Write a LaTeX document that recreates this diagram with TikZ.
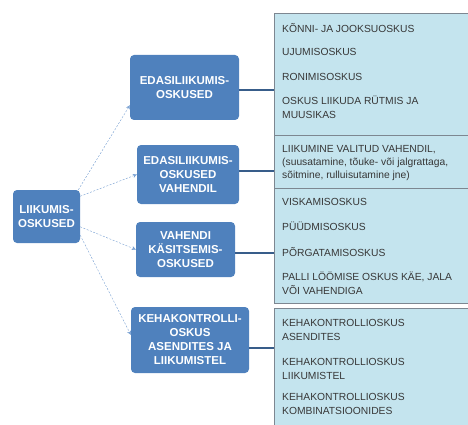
\documentclass[tikz,border=0pt]{standalone}
\usepackage{fontspec}
\setmainfont{Liberation Sans}
\usepackage{xcolor}
\usepackage{tikz}
\usetikzlibrary{arrows, arrows.meta}
\definecolor{boxblue}{RGB}{79,129,189}
\definecolor{panelblue}{RGB}{196,228,238}
\definecolor{panelline}{RGB}{125,135,145}
\definecolor{linkblue}{RGB}{56,93,138}
\definecolor{arrowblue}{RGB}{120,160,210}
\definecolor{itemgray}{RGB}{55,55,55}

\begin{document}
\begin{tikzpicture}[x=1pt, y=-1pt,
		skill/.style={rectangle, rounded corners=4pt, fill=boxblue, text=white, align=center, inner sep=0pt, font=\bfseries\fontsize{11.5}{14}\selectfont},
		panel/.style={rectangle, draw=panelline, fill=panelblue, minimum width=196, inner sep=0pt},
		item/.style={anchor=west, align=left, inner sep=0pt, text=itemgray, font=\fontsize{10.3}{14}\selectfont},
		link/.style={draw=linkblue, line width=2pt},
		branch/.style={draw=arrowblue, dash pattern=on 2pt off 1.5pt, -{Stealth[length=4pt, width=4pt]}}]
			\useasboundingbox (0,0) rectangle (468,425);
			\foreach \y/\h [count=\c] in {74/122, 161.5/53, 245.5/115, 370/124}
			{
				\node[panel, minimum height=\h](p\c) at (372,\y){};
			}
			\foreach \lab/\y [count=\c] in {{KÕNNI- JA JOOKSUOSKUS}/28, UJUMISOSKUS/52, RONIMISOSKUS/77, {OSKUS LIIKUDA RÜTMIS JA\\MUUSIKAS}/107.5,
				{LIIKUMINE VALITUD VAHENDIL,\\[-1pt](suusatamine, tõuke- või jalgrattaga,\\[-1pt]sõitmine, rulluisutamine jne)}/163,
				VISKAMISOSKUS/202, PÜÜDMISOSKUS/226, PÕRGATAMISOSKUS/252, {PALLI LÖÖMISE OSKUS KÄE, JALA\\VÕI VAHENDIGA}/283.5,
				{KEHAKONTROLLIOSKUS\\ASENDITES}/329.5, {KEHAKONTROLLIOSKUS\\LIIKUMISTEL}/368.5, {KEHAKONTROLLIOSKUS\\KOMBINATSIOONIDES}/404}
			{
				\node[item](i\c) at (282,\y){\lab};
			}
			\node[skill, minimum width=67, minimum height=53](root) at (46.5,216.5){LIIKUMIS-\\OSKUSED};
			\foreach \lab/\pos/\w/\h [count=\c] in {{EDASILIIKUMIS-\\OSKUSED}/{184.5,87.5}/109/65,
				{EDASILIIKUMIS-\\OSKUSED\\VAHENDIL}/{188,174.5}/102/59,
				{VAHENDI\\KÄSITSEMIS-\\OSKUSED}/{185.5,249.5}/99/55,
				{KEHAKONTROLLI-\\OSKUS\\ASENDITES JA\\LIIKUMISTEL}/{190,340}/118/66}
			{
				\node[skill, minimum width=\w, minimum height=\h](b\c) at (\pos){\lab};
			}
			\foreach \y [count=\c] in {90, 171, 253, 348}
			{
				\coordinate (e\c) at (p\c.west |- 0,\y);
				\draw[link] (b\c.east |- e\c) -- (e\c);
			}
			\draw[branch] (root.40) -- (b1.198);
			\draw[branch] (root.31) -- (b2.west);
			\draw[branch] (root.-17) -- (b3.west);
			\draw[branch] (root.-29) -- (b4.175);
		\end{tikzpicture}
\end{document}
